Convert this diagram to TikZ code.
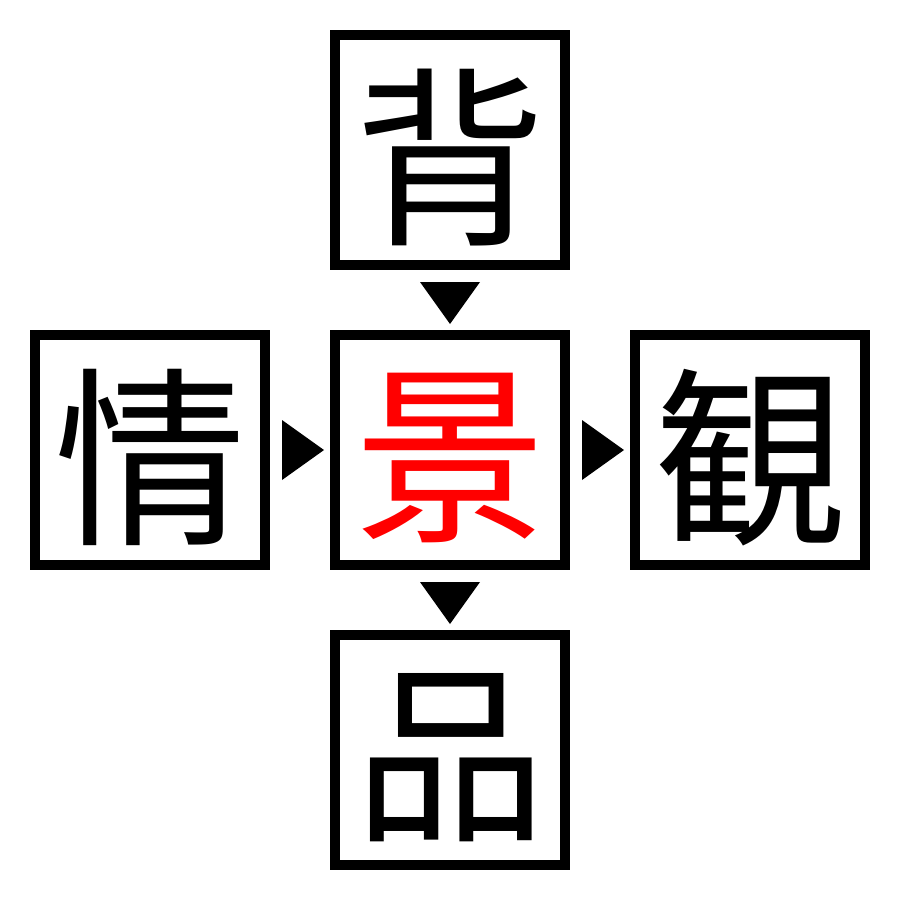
\documentclass[tikz,border=0pt]{standalone}
\usepackage{fontspec}
\usetikzlibrary{calc}
\newfontfamily\cjk{Noto Sans CJK JP}
\begin{document}
\begin{tikzpicture}[x=1pt,y=-1pt,
  kbox/.style={draw=black,line width=10pt,minimum width=230pt,minimum height=230pt,inner sep=0pt,font=\cjk\fontsize{192}{192}\selectfont,text depth=0pt,anchor=center},
  tri/.style={fill=black,draw=none}]
\useasboundingbox (0,0) rectangle (900,900);
\fill[white] (0,0) rectangle (900,900);
\node[kbox] (top) at (450,150) {背};
\node[kbox] (left) at (150,450) {情};
\node[kbox,text=red] (mid) at (450,450) {景};
\node[kbox] (right) at (750,450) {観};
\node[kbox] (bot) at (450,750) {品};
% down arrows
\fill[tri] ($(top.south)+(-30,12)$) -- ($(top.south)+(30,12)$) -- ($(top.south)+(0,54)$) -- cycle;
\fill[tri] ($(mid.south)+(-30,12)$) -- ($(mid.south)+(30,12)$) -- ($(mid.south)+(0,54)$) -- cycle;
% right arrows
\fill[tri] ($(left.east)+(12,-30)$) -- ($(left.east)+(12,30)$) -- ($(left.east)+(54,0)$) -- cycle;
\fill[tri] ($(mid.east)+(12,-30)$) -- ($(mid.east)+(12,30)$) -- ($(mid.east)+(54,0)$) -- cycle;
\end{tikzpicture}
\end{document}
